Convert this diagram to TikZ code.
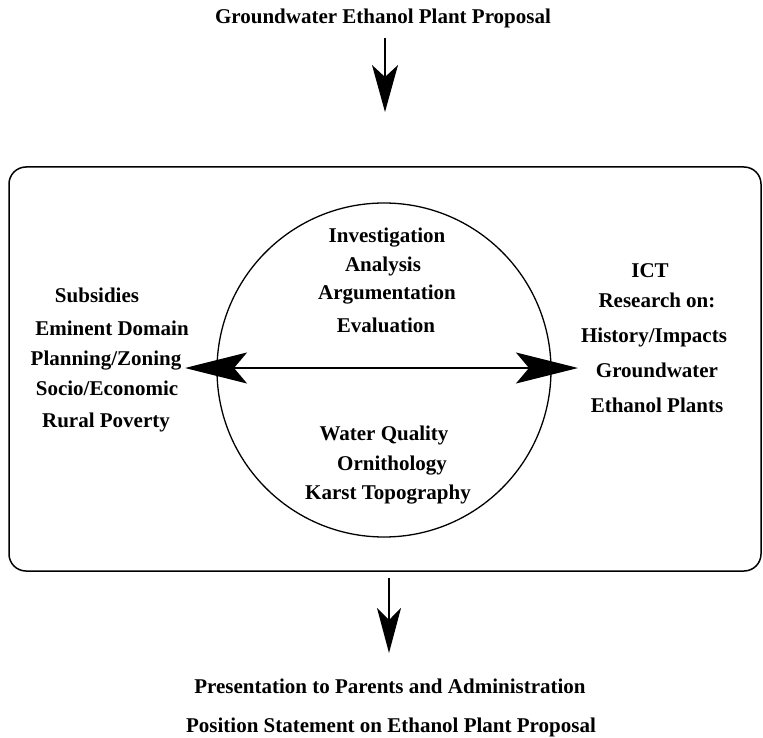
\documentclass[tikz,border=0pt]{standalone}
\usepackage{fontspec}
\setmainfont{Liberation Serif}
\usetikzlibrary{arrows.meta}
\begin{document}
\begin{tikzpicture}[x=1pt,y=-1pt,
  lbl/.style={font=\fontsize{21}{25}\selectfont\bfseries, anchor=base, inner sep=0pt},
  thinarrow/.style={line width=1.3pt, -{Stealth[length=47pt,width=26pt,inset=12pt]}},
  bigarrow/.style={line width=2pt, {Stealth[length=62pt,width=31pt,inset=13pt]}-{Stealth[length=62pt,width=31pt,inset=13pt]}}
]
\useasboundingbox (0,0) rectangle (763,738);
% title
\node[lbl] (title) at (383,24) {Groundwater Ethanol Plant Proposal};
\coordinate (toptip) at (385,112);
\draw[thinarrow] (385,38) -- (toptip);
% frame
\draw[line width=1.5pt, rounded corners=17pt] (9,167) rectangle (761,571);
\coordinate (framebottom) at (389,571);
% circle
\node[draw, circle, line width=1.3pt, minimum size=334pt, inner sep=0pt] (circ) at (384,370) {};
% center texts
\node[lbl] (inv) at (387,243) {Investigation};
\node[lbl] (ana) at (383,272) {Analysis};
\node[lbl] (arg) at (387,299) {Argumentation};
\node[lbl] (eva) at (386,332) {Evaluation};
\node[lbl] (wq) at (384,440) {Water Quality};
\node[lbl] (orn) at (392,470) {Ornithology};
\node[lbl] (kar) at (388,499) {Karst Topography};
% left texts
\node[lbl] (sub) at (97,302) {Subsidies};
\node[lbl] (emi) at (112,335) {Eminent Domain};
\node[lbl] (pla) at (106,365) {Planning/Zoning};
\node[lbl] (soc) at (107,395) {Socio/Economic};
\node[lbl] (rur) at (106,427) {Rural Poverty};
% right texts
\node[lbl] (ict) at (650,277) {ICT};
\node[lbl] (res) at (657,307) {Research on:};
\node[lbl] (his) at (654,342) {History/Impacts};
\node[lbl] (gro) at (657,377) {Groundwater};
\node[lbl] (eth) at (657,412) {Ethanol Plants};
% double arrow
\coordinate (ltip) at (185,368);
\coordinate (rtip) at (578,368);
\draw[bigarrow] (ltip) -- (rtip);
% bottom arrow
\coordinate (bottip) at (389,653);
\draw[line width=1.3pt, -{Stealth[length=45pt,width=24pt,inset=12pt]}] (389,578) -- (bottip);
% bottom texts
\node[lbl] (pres) at (390,693) {Presentation to Parents and Administration};
\node[lbl] (pos) at (391,732) {Position Statement on Ethanol Plant Proposal};
\end{tikzpicture}
\end{document}
